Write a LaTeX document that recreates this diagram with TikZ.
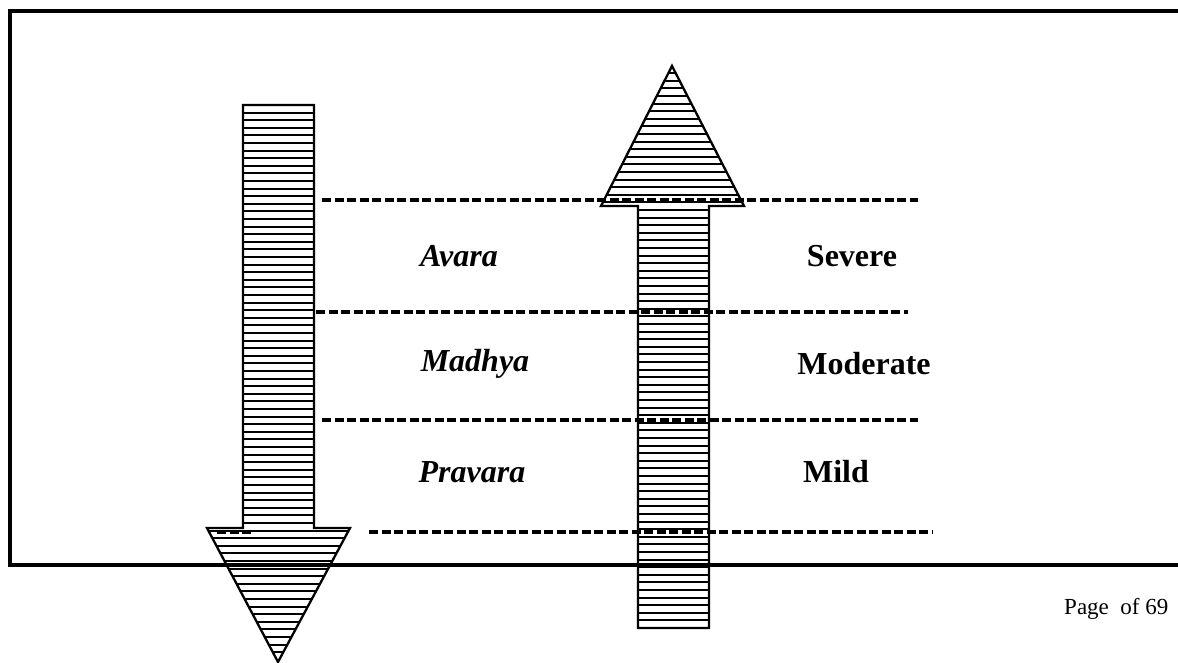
\documentclass[tikz,border=0pt]{standalone}
\usepackage{fontspec}
\setmainfont{Liberation Serif}
\begin{document}
\begin{tikzpicture}[x=1pt,y=-1pt,
  outline/.style={line width=2.3pt,line join=miter},
  hatchline/.style={line width=2pt},
  dashline/.style={line width=3.2pt,dash pattern=on 9pt off 3.5pt},
  lbl/.style={font=\fontsize{32}{36}\selectfont\bfseries\itshape,anchor=center,inner sep=0pt},
  eng/.style={font=\fontsize{32}{36}\selectfont\bfseries,anchor=center,inner sep=0pt},
  frameline/.style={line width=3.2pt}]
\useasboundingbox (0,0) rectangle (1178,663);
% frame
\draw[frameline] (1178,11) -- (10,11) -- (10,565) -- (1178,565);
% down arrow
\begin{scope}
\clip (243,105) -- (314,105) -- (314,528) -- (350,528) -- (278,662) -- (207,528) -- (243,528) -- cycle;
\foreach \yy in {0,...,75} {\draw[hatchline] (200,105+7.6*\yy) -- (360,105+7.6*\yy);}
\end{scope}
\draw[outline] (243,105) -- (314,105) -- (314,528) -- (350,528) -- (278,662) -- (207,528) -- (243,528) -- cycle;
% up arrow
\begin{scope}
\clip (672,66) -- (744,206) -- (709,206) -- (709,628) -- (638,628) -- (638,206) -- (601,206) -- cycle;
\foreach \yy in {0,...,75} {\draw[hatchline] (590,628-7.6*\yy) -- (760,628-7.6*\yy);}
\end{scope}
\draw[outline] (672,66) -- (744,206) -- (709,206) -- (709,628) -- (638,628) -- (638,206) -- (601,206) -- cycle;
% dashed lines
\draw[dashline] (322,200) -- (918,200);
\draw[dashline] (316,312) -- (908,312);
\draw[dashline] (322,420) -- (918,420);
\draw[dashline] (369,532) -- (933,532);
\draw[dashline] (217,532) -- (252,532);
% labels
\node[lbl] (avara) at (459,256) {Avara};
\node[lbl] (madhya) at (475,364) {Madhya};
\node[lbl] (pravara) at (472,472) {Pravara};
\node[eng] (severe) at (852,256) {Severe};
\node[eng] (moderate) at (864,364) {Moderate};
\node[eng] (mild) at (836,472) {Mild};
\node[font=\fontsize{23}{26}\selectfont,anchor=west,inner sep=0pt] (page) at (1064,609) {Page\ \ of 69};
\end{tikzpicture}
\end{document}
